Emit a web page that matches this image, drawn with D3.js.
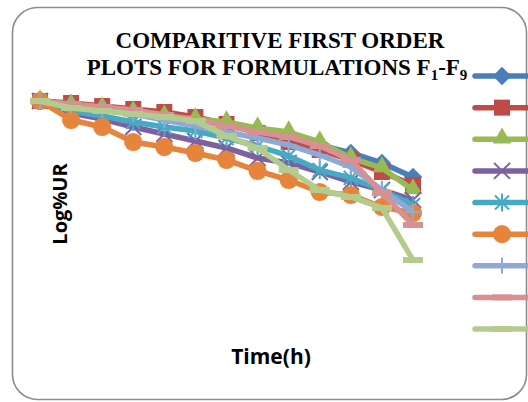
<!DOCTYPE html>
<html>
<head>
<meta charset="utf-8">
<script src="https://cdn.jsdelivr.net/npm/d3@7"></script>
<style>
  html, body { margin: 0; padding: 0; background: #fff; }
  svg { display: block; }
</style>
</head>
<body>
<svg id="chart" width="528" height="402"></svg>
<script>
// Sampling times (h)
const times = [0, 1, 2, 3, 4, 5, 6, 7, 8, 9, 10, 11, 12];

// Log % unreleased for each formulation
const F1 = [2.000, 1.974, 1.939, 1.913, 1.878, 1.843, 1.799, 1.747, 1.694, 1.616, 1.546, 1.459, 1.336];
const F2 = [2.000, 1.983, 1.956, 1.930, 1.904, 1.860, 1.799, 1.721, 1.642, 1.572, 1.485, 1.380, 1.266];
const F3 = [2.000, 1.965, 1.939, 1.904, 1.869, 1.843, 1.817, 1.764, 1.729, 1.642, 1.502, 1.415, 1.223];
const F4 = [2.000, 1.895, 1.843, 1.773, 1.712, 1.651, 1.590, 1.502, 1.459, 1.380, 1.293, 1.223, 1.135];
const F5 = [2.000, 1.913, 1.869, 1.817, 1.773, 1.738, 1.677, 1.607, 1.520, 1.397, 1.328, 1.223, 1.092];
const F6 = [2.000, 1.834, 1.773, 1.642, 1.598, 1.546, 1.485, 1.389, 1.310, 1.205, 1.179, 1.074, 1.022];
const F7 = [2.000, 1.956, 1.921, 1.886, 1.834, 1.782, 1.729, 1.677, 1.616, 1.528, 1.424, 1.223, 1.031];
const F8 = [2.000, 1.974, 1.948, 1.921, 1.878, 1.834, 1.782, 1.729, 1.686, 1.607, 1.485, 1.197, 0.917];
const F9 = [2.000, 1.939, 1.913, 1.886, 1.860, 1.825, 1.694, 1.590, 1.397, 1.223, 1.162, 1.066, 0.611];

const seriesNames = ["F1", "F2", "F3", "F4", "F5", "F6", "F7", "F8", "F9"];
const seriesValues = [F1, F2, F3, F4, F5, F6, F7, F8, F9];

const colors = ["#4a7ebb", "#be4b48", "#98b954", "#7d60a0", "#46aac5",
                "#e5843a", "#8fa9d6", "#d69190", "#b3cc8e"];
const markers = ["diamond", "square", "triangle", "x", "star", "circle", "plus", "dash", "dash"];

const svg = d3.select("#chart");

// Chart frame
svg.append("rect")
  .attr("x", 12.5).attr("y", 7.5)
  .attr("width", 514).attr("height", 392)
  .attr("rx", 25).attr("ry", 25)
  .attr("fill", "#fff")
  .attr("stroke", "#8c8c8c")
  .attr("stroke-width", 1.6);

// Scales
const x = d3.scaleLinear().domain([0, 12]).range([40, 413]);
const y = d3.scaleLinear().domain([0, 2]).range([330, 101]);

// Marker drawing
function drawMarker(g, type, color) {
  switch (type) {
    case "diamond":
      g.append("path").attr("d", d3.symbol(d3.symbolSquare, 170)())
        .attr("transform", "rotate(45)").attr("fill", color);
      break;
    case "square":
      g.append("path").attr("d", d3.symbol(d3.symbolSquare, 256)()).attr("fill", color);
      break;
    case "triangle":
      g.append("path").attr("d", d3.symbol(d3.symbolTriangle, 150)())
        .attr("transform", "translate(0,-1)").attr("fill", color);
      break;
    case "circle":
      g.append("path").attr("d", d3.symbol(d3.symbolCircle, 260)()).attr("fill", color);
      break;
    case "x":
      g.append("path").attr("d", "M-8,-8L8,8M-8,8L8,-8")
        .attr("stroke", color).attr("stroke-width", 2).attr("fill", "none");
      break;
    case "star":
      g.append("path").attr("d", "M-7,-7L7,7M-7,7L7,-7M0,-9L0,9")
        .attr("stroke", color).attr("stroke-width", 2).attr("fill", "none");
      break;
    case "plus":
      g.append("path").attr("d", "M0,-8L0,8M-8,0L8,0")
        .attr("stroke", color).attr("stroke-width", 2).attr("fill", "none");
      break;
    case "dash":
      g.append("rect").attr("x", -10).attr("y", -3).attr("width", 20).attr("height", 6)
        .attr("fill", color);
      break;
  }
}

// Series lines and markers
const line = d3.line().x((d, i) => x(times[i])).y(d => y(d));
const plot = svg.append("g");
seriesValues.forEach((vals, s) => {
  const g = plot.append("g").attr("class", "series " + seriesNames[s]);
  g.append("path")
    .attr("d", line(vals))
    .attr("fill", "none")
    .attr("stroke", colors[s])
    .attr("stroke-width", 5.5)
    .attr("stroke-linejoin", "round");
  vals.forEach((v, i) => {
    const m = g.append("g").attr("transform", `translate(${x(times[i])},${y(v)})`);
    drawMarker(m, markers[s], colors[s]);
  });
});

// Legend (line + marker per series)
const legend = svg.append("g");
const legendY = d3.scalePoint().domain(seriesNames).range([76, 329]);
seriesNames.forEach((name, s) => {
  const gy = legendY(name);
  legend.append("line")
    .attr("x1", 475).attr("x2", 540)
    .attr("y1", gy).attr("y2", gy)
    .attr("stroke", colors[s]).attr("stroke-width", 5.5)
    .attr("stroke-linecap", "round");
  const m = legend.append("g").attr("transform", `translate(502,${gy})`);
  drawMarker(m, markers[s], colors[s]);
});

// Title
const title = svg.append("text")
  .attr("text-anchor", "middle")
  .attr("font-family", "'Liberation Serif', 'Times New Roman', serif")
  .attr("font-weight", "bold")
  .attr("font-size", 23)
  .attr("fill", "#000");
title.append("tspan").attr("x", 280).attr("y", 48).text("COMPARITIVE FIRST ORDER");
const t2 = title.append("tspan").attr("x", 277).attr("y", 75);
t2.append("tspan").text("PLOTS FOR FORMULATIONS F");
t2.append("tspan").attr("font-size", 15).attr("dy", 5).text("1");
t2.append("tspan").attr("dy", -5).text("-F");
t2.append("tspan").attr("font-size", 15).attr("dy", 5).text("9");

// Axis titles
svg.append("text")
  .attr("transform", "translate(67,204) rotate(-90)")
  .attr("text-anchor", "middle")
  .attr("font-family", "'Open Sans', sans-serif")
  .attr("font-weight", "bold")
  .attr("font-size", 20)
  .attr("fill", "#000")
  .text("Log%UR");

svg.append("text")
  .attr("x", 271).attr("y", 364)
  .attr("text-anchor", "middle")
  .attr("font-family", "'Open Sans', sans-serif")
  .attr("font-weight", "bold")
  .attr("font-size", 21)
  .attr("fill", "#000")
  .text("Time(h)");
</script>
</body>
</html>
